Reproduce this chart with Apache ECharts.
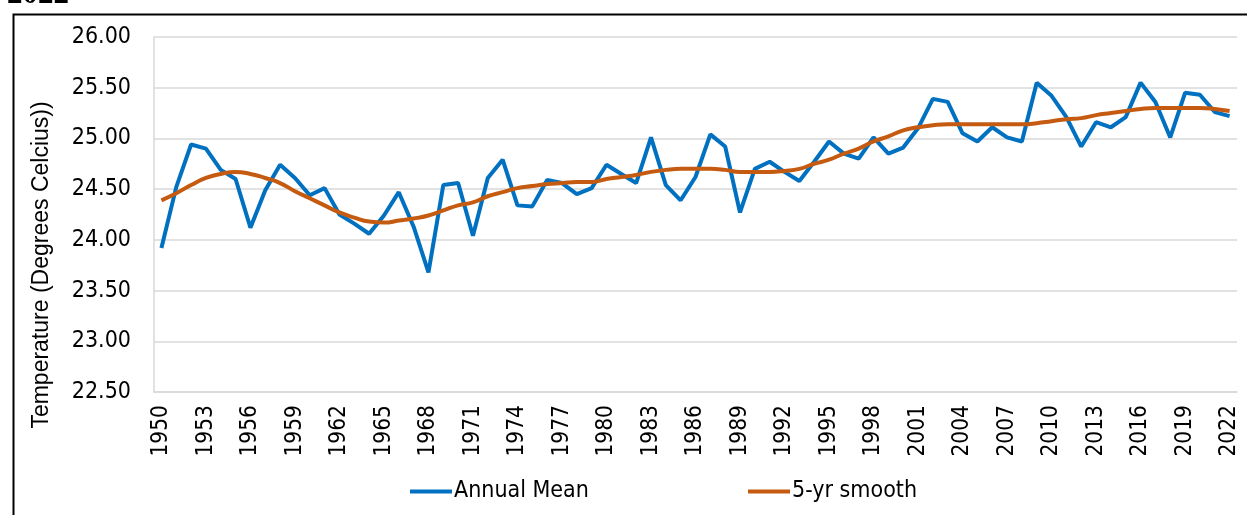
<!DOCTYPE html>
<html><head><meta charset="utf-8">
<script src="https://cdn.jsdelivr.net/npm/echarts@6/dist/echarts.min.js"></script>
<style>html,body{margin:0;padding:0;background:#fff}#c{width:1247px;height:515px}</style>
</head><body><div id="c"></div>
<script>
const years = [];
for (let y = 1950; y <= 2022; y++) years.push(String(y));
const annualMean = [
23.92,24.52,24.94,24.90,24.69,24.60,24.12,24.49,24.74,24.61,
24.44,24.51,24.25,24.16,24.06,24.24,24.47,24.13,23.68,24.54,
24.56,24.04,24.61,24.79,24.34,24.33,24.59,24.56,24.45,24.51,
24.74,24.65,24.56,25.01,24.54,24.39,24.62,25.04,24.92,24.27,
24.70,24.77,24.67,24.58,24.77,24.97,24.85,24.80,25.01,24.85,
24.91,25.10,25.39,25.36,25.05,24.97,25.11,25.01,24.97,25.55,
25.42,25.21,24.92,25.16,25.11,25.21,25.55,25.36,25.01,25.45,
25.43,25.26,25.22];
const smooth5yr = [
24.39,24.46,24.54,24.61,24.65,24.67,24.65,24.61,24.56,24.48,
24.41,24.34,24.27,24.22,24.18,24.17,24.19,24.21,24.24,24.29,
24.34,24.37,24.43,24.47,24.51,24.53,24.55,24.56,24.57,24.57,
24.60,24.62,24.64,24.67,24.69,24.70,24.70,24.70,24.69,24.67,
24.67,24.67,24.68,24.70,24.75,24.79,24.85,24.90,24.97,25.02,
25.08,25.11,25.13,25.14,25.14,25.14,25.14,25.14,25.14,25.15,
25.17,25.19,25.20,25.23,25.25,25.27,25.29,25.30,25.30,25.30,
25.30,25.29,25.27];
const yTicks = { min: 22.5, max: 26, step: 0.5 };
const titleText = '2022';
const yName = 'Temperature (Degrees Celcius))';
const seriesNames = ['Annual Mean', '5-yr smooth'];

const FONT = "'DejaVu Sans Condensed', 'DejaVu Sans', sans-serif";
const chart = echarts.init(document.getElementById('c'), null, { renderer: 'canvas' });
chart.setOption({
  animation: false,
  backgroundColor: '#fff',
  grid: { left: 154, right: 10, top: 37, bottom: 123 },
  graphic: [
    { type: 'rect', left: 11, top: 12, shape: { width: 1250, height: 520 },
      style: { fill: 'none', stroke: '#000', lineWidth: 2 }, z: -1 },
    { type: 'text', left: 7, top: -21,
      style: { text: titleText, font: "bold 31px 'Liberation Serif', serif", fill: '#000' } },
    { type: 'text', x: 42, y: 265, rotation: Math.PI / 2,
      style: { text: yName, font: "23px 'Liberation Sans', Arial, sans-serif", fill: '#000',
               align: 'center', verticalAlign: 'middle' } }
  ],
  legend: [
    { data: [seriesNames[0]], left: 410, top: 480, padding: 0, icon: 'rect', itemWidth: 42, itemHeight: 4,
      textStyle: { fontFamily: FONT, fontSize: 23, color: '#000', padding: [0,0,0,-3] } },
    { data: [seriesNames[1]], left: 748, top: 480, padding: 0, icon: 'rect', itemWidth: 42, itemHeight: 4,
      textStyle: { fontFamily: FONT, fontSize: 23, color: '#000', padding: [0,0,0,-3] } }
  ],
  xAxis: {
    type: 'category', data: years, boundaryGap: true,
    axisLine: { show: true, lineStyle: { color: '#d9d9d9', width: 1.5 } },
    axisTick: { show: false },
    axisLabel: { interval: 2, rotate: 90, margin: 13, fontFamily: FONT, fontSize: 22.5, color: '#000' },
    splitLine: { show: false }
  },
  yAxis: {
    type: 'value', min: yTicks.min, max: yTicks.max, interval: yTicks.step,
    axisLine: { show: true, lineStyle: { color: '#d9d9d9', width: 1.5 } },
    axisTick: { show: false },
    axisLabel: { margin: 23, fontFamily: FONT, fontSize: 23, color: '#000',
                 formatter: v => v.toFixed(2) },
    splitLine: { show: true, lineStyle: { color: '#d9d9d9', width: 1.5 } }
  },
  series: [
    { name: seriesNames[0], type: 'line', data: annualMean, symbol: 'none', smooth: false,
      lineStyle: { color: '#0070C0', width: 4 }, itemStyle: { color: '#0070C0' } },
    { name: seriesNames[1], type: 'line', data: smooth5yr, symbol: 'none', smooth: 0.5,
      lineStyle: { color: '#C55A11', width: 4 }, itemStyle: { color: '#C55A11' } }
  ]
});
</script></body></html>
